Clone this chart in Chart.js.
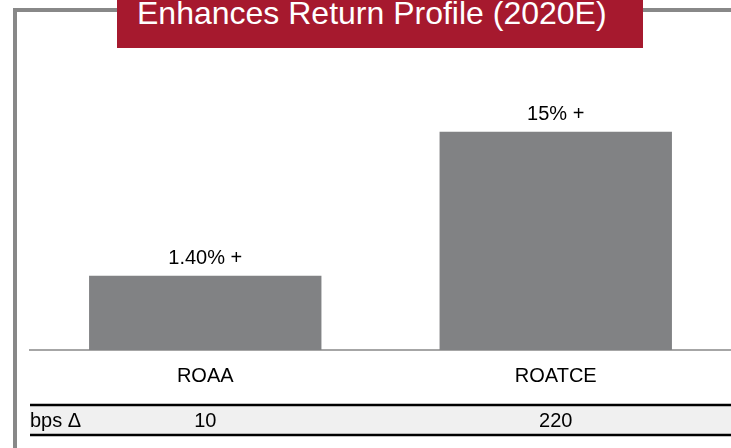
<!DOCTYPE html>
<html>
<head>
<meta charset="utf-8">
<script src="https://cdn.jsdelivr.net/npm/chart.js@4.4.1/dist/chart.umd.min.js"></script>
<style>
  html, body { margin: 0; padding: 0; background: #fff; }
  #wrap { position: relative; width: 731px; height: 448px; overflow: hidden; font-family: "Liberation Sans", Arial, sans-serif; }
  #frame { position: absolute; left: 13px; top: 8px; width: 800px; height: 500px;
           border-top: 4px solid #888; border-left: 4px solid #888; box-sizing: border-box; }
  #chartBox { position: absolute; left: 0; top: 0; width: 731px; height: 448px; }
  #title { position: absolute; left: 117px; top: 0; width: 526px; height: 48px; background: #a6192e; overflow: hidden; }
  #title span { position: absolute; left: 20px; top: -3px; color: #fff; font-size: 32px; line-height: 32px; white-space: nowrap; }
</style>
</head>
<body>
<div id="wrap">
  <div id="frame"></div>
  <div id="chartBox"><canvas id="chart"></canvas></div>
  <div id="title"><span>Enhances Return Profile (2020E)</span></div>
</div>
<script>
// ======================================
// DATA (bar heights as drawn, not to scale with the labels)
// ======================================
const categories = ["ROAA", "ROATCE"];
const barHeights = [5.1, 15];
const valueLabels = ["1.40% +", "15% +"];
const rowLabel = "bps Δ";
const bpsDelta = ["10", "220"];

const FONT = "Liberation Sans, Arial, sans-serif";

// labels above the bars
const valueLabelPlugin = {
    id: "valueLabels",
    afterDatasetsDraw(chart) {
        const ctx = chart.ctx;
        const meta = chart.getDatasetMeta(0);
        ctx.save();
        ctx.font = "20px " + FONT;
        ctx.fillStyle = "#000";
        ctx.textAlign = "center";
        ctx.textBaseline = "alphabetic";
        meta.data.forEach((bar, i) => {
            ctx.fillText(valueLabels[i], bar.x, bar.y - 12);
        });
        ctx.restore();
    }
};

// the "bps Δ" row under the chart
const tableRowPlugin = {
    id: "tableRow",
    afterDraw(chart) {
        const ctx = chart.ctx;
        const x = chart.scales.x;
        const left = 30, right = 731, top = 405, bottom = 435;
        ctx.save();
        ctx.fillStyle = "#f0f0f0";
        ctx.fillRect(left, top, right - left, bottom - top);
        ctx.strokeStyle = "#000";
        ctx.lineWidth = 2.3;
        ctx.beginPath();
        ctx.moveTo(left, top); ctx.lineTo(right, top);
        ctx.moveTo(left, bottom); ctx.lineTo(right, bottom);
        ctx.stroke();

        ctx.font = "20px " + FONT;
        ctx.fillStyle = "#000";
        ctx.textBaseline = "middle";
        ctx.textAlign = "left";
        ctx.fillText(rowLabel, left, (top + bottom) / 2 + 1);
        ctx.textAlign = "center";
        bpsDelta.forEach((v, i) => {
            ctx.fillText(v, x.getPixelForValue(i), (top + bottom) / 2 + 1);
        });
        ctx.restore();
    }
};

new Chart(document.getElementById("chart"), {
    type: "bar",
    data: {
        labels: categories,
        datasets: [{
            data: barHeights,
            backgroundColor: "#818284",
            borderWidth: 0,
            barPercentage: 0.663,
            categoryPercentage: 1
        }]
    },
    options: {
        responsive: true,
        maintainAspectRatio: false,
        animation: false,
        layout: { padding: { top: 59, left: 30, right: 0, bottom: 46 } },
        plugins: { legend: { display: false }, tooltip: { enabled: false } },
        scales: {
            x: {
                grid: { display: false, drawTicks: false },
                border: { display: true, color: "#a6a6a6", width: 2 },
                ticks: { color: "#000", font: { family: FONT, size: 20 }, padding: 14 }
            },
            y: { display: false, min: 0, max: 20 }
        }
    },
    plugins: [valueLabelPlugin, tableRowPlugin]
});
</script>
</body>
</html>
